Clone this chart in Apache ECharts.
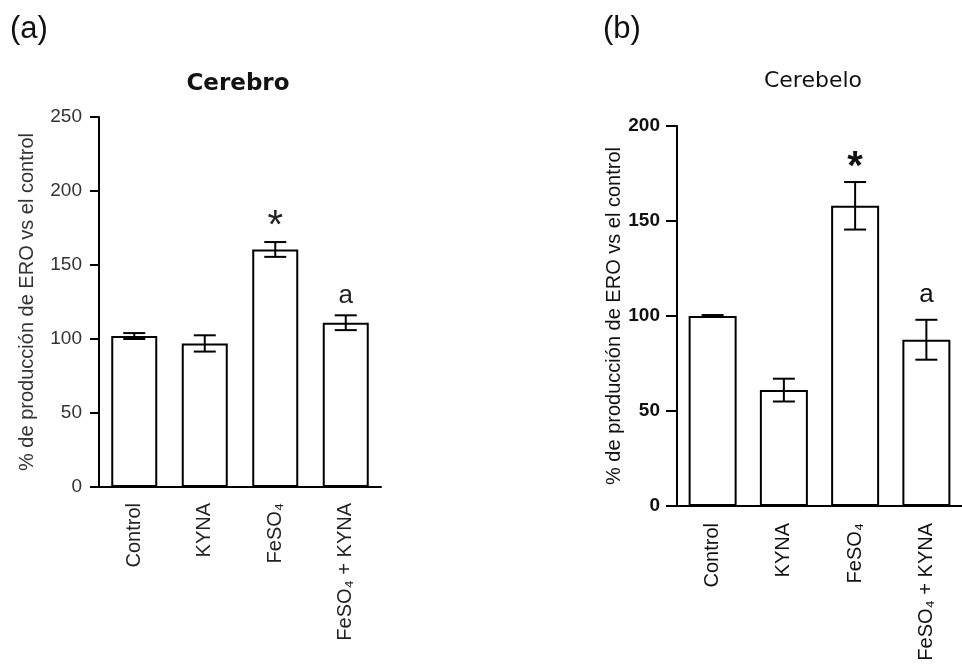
<!DOCTYPE html>
<html>
<head>
<meta charset="utf-8">
<script src="https://cdn.jsdelivr.net/npm/echarts@6/dist/echarts.min.js"></script>
<style>
html,body{margin:0;padding:0;background:#fff;}
#c{width:962px;height:664px;}
</style>
</head>
<body>
<div id="c"></div>
<script>
const categories = ['Control', 'KYNA', 'FeSO\u2084', 'FeSO\u2084 + KYNA'];
const cerebroMean = [102, 97, 160.5, 111];
const cerebroErr = [2, 5.5, 5, 5];
const cerebroMarks = ['', '', '*', 'a'];
const cerebeloMean = [100, 61, 158, 87.5];
const cerebeloErr = [0.5, 6, 12.5, 10.5];
const cerebeloMarks = ['', '', '*', 'a'];
const yAxisName = '% de producción de ERO vs el control';
const titleA = 'Cerebro';
const titleB = 'Cerebelo';

const FONT = '"Liberation Sans", Arial, sans-serif';

function errSeries(idx, means, errs, marks, cfg) {
  return {
    type: 'custom',
    xAxisIndex: idx, yAxisIndex: idx,
    z: 5,
    data: means.map((m, i) => [i, m, errs[i]]),
    renderItem: function (params, api) {
      const x = api.value(0), m = api.value(1), e = api.value(2);
      const top = api.coord([x, m + e]);
      const bot = api.coord([x, m - e]);
      const hw = cfg.cap / 2;
      const ls = { stroke: '#000', lineWidth: 2 };
      const children = [
        { type: 'line', shape: { x1: top[0], y1: top[1], x2: bot[0], y2: bot[1] }, style: ls },
        { type: 'line', shape: { x1: top[0] - hw, y1: top[1], x2: top[0] + hw, y2: top[1] }, style: ls },
        { type: 'line', shape: { x1: bot[0] - hw, y1: bot[1], x2: bot[0] + hw, y2: bot[1] }, style: ls }
      ];
      const mk = marks[params.dataIndex];
      if (mk) {
        const s = cfg.marks[mk];
        children.push({
          type: 'text', x: top[0], y: top[1] - s.gap,
          style: { text: mk, fontSize: s.size, fontWeight: s.weight || 'normal', fontFamily: FONT,
                   fill: cfg.color, align: 'center', verticalAlign: 'middle' }
        });
      }
      return { type: 'group', children: children };
    }
  };
}

function barSeries(idx, means, width) {
  return {
    type: 'bar', xAxisIndex: idx, yAxisIndex: idx,
    data: means, barWidth: width,
    itemStyle: { color: '#fff', borderColor: '#000', borderWidth: 2 },
    silent: true
  };
}

const axisLine = { show: true, lineStyle: { color: '#000', width: 2 } };

const option = {
  animation: false,
  backgroundColor: '#fff',
  grid: [
    { left: 99, top: 117, width: 282, height: 370 },
    { left: 677, top: 126, width: 288, height: 380 }
  ],
  xAxis: [
    { type: 'category', gridIndex: 0, data: categories, axisLine: axisLine,
      axisTick: { alignWithLabel: true, length: 10, lineStyle: { color: '#000', width: 2 } },
      axisLabel: { rotate: 90, margin: 16, fontSize: 20, fontFamily: FONT, color: '#222' } },
    { type: 'category', gridIndex: 1, data: categories, axisLine: axisLine,
      axisTick: { alignWithLabel: true, length: 11, lineStyle: { color: '#000', width: 2 } },
      axisLabel: { rotate: 90, margin: 17, fontSize: 20, fontFamily: FONT, color: '#111' } }
  ],
  yAxis: [
    { type: 'value', gridIndex: 0, min: 0, max: 250, interval: 50, axisLine: axisLine,
      splitLine: { show: false },
      axisTick: { show: true, length: 9, lineStyle: { color: '#000', width: 2 } },
      axisLabel: { margin: 17, fontSize: 19, fontFamily: FONT, color: '#333' },
      name: yAxisName, nameLocation: 'middle', nameRotate: 90, nameGap: 62,
      nameTextStyle: { fontSize: 20, fontFamily: FONT, color: '#333' } },
    { type: 'value', gridIndex: 1, min: 0, max: 200, interval: 50, axisLine: axisLine,
      splitLine: { show: false },
      axisTick: { show: true, length: 11, lineStyle: { color: '#000', width: 2 } },
      axisLabel: { margin: 17, fontSize: 19, fontWeight: 'bold', fontFamily: FONT, color: '#111' },
      name: yAxisName, nameLocation: 'middle', nameRotate: 90, nameGap: 50,
      nameTextStyle: { fontSize: 20, fontFamily: FONT, color: '#111' } }
  ],
  graphic: [
    { type: 'text', x: 10, y: 29, style: { text: '(a)', fontSize: 31, fontFamily: FONT, fill: '#111', verticalAlign: 'middle' } },
    { type: 'text', x: 603, y: 29, style: { text: '(b)', fontSize: 31, fontFamily: FONT, fill: '#111', verticalAlign: 'middle' } },
    { type: 'text', x: 238, y: 84, style: { text: titleA, fontSize: 23, fontWeight: 'bold', fontFamily: '"DejaVu Sans", sans-serif', fill: '#111', align: 'center', verticalAlign: 'middle' } },
    { type: 'text', x: 813, y: 81, style: { text: titleB, fontSize: 22, fontFamily: '"DejaVu Sans", sans-serif', fill: '#111', align: 'center', verticalAlign: 'middle' } }
  ],
  series: [
    barSeries(0, cerebroMean, 46),
    errSeries(0, cerebroMean, cerebroErr, cerebroMarks, {
      cap: 22, color: '#222',
      marks: { '*': { size: 40, gap: 15 }, 'a': { size: 26, gap: 19 } } }),
    barSeries(1, cerebeloMean, 48),
    errSeries(1, cerebeloMean, cerebeloErr, cerebeloMarks, {
      cap: 22, color: '#111',
      marks: { '*': { size: 40, gap: 14, weight: 'bold' }, 'a': { size: 26, gap: 25 } } })
  ]
};

const chart = echarts.init(document.getElementById('c'), null, { renderer: 'canvas' });
chart.setOption(option);
</script>
</body>
</html>
